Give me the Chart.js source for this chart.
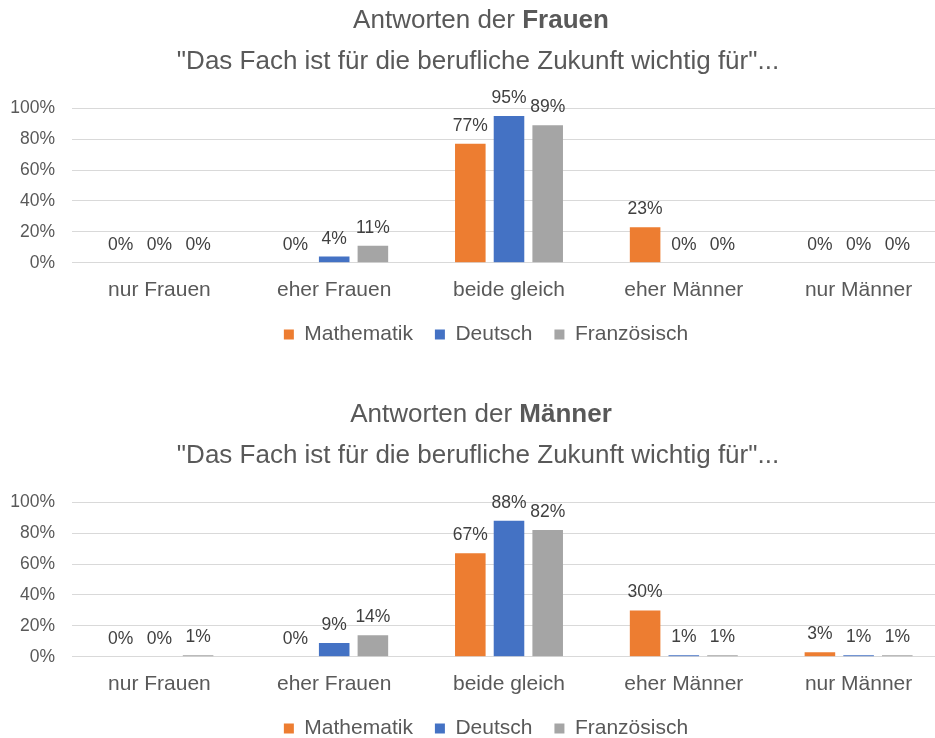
<!DOCTYPE html>
<html>
<head>
<meta charset="utf-8">
<script src="https://cdn.jsdelivr.net/npm/chart.js@4/dist/chart.umd.min.js"></script>
<style>
  html, body { margin: 0; padding: 0; background: #fff; overflow: hidden; }
  #wrap { position: relative; width: 935px; height: 738px; overflow: hidden; }
  .box { position: absolute; left: 0; width: 962px; height: 393px; }
  #b1 { top: 0; }
  #b2 { top: 394px; }
</style>
</head>
<body>
<div id="wrap">
  <div class="box" id="b1"><canvas id="c1"></canvas></div>
  <div class="box" id="b2"><canvas id="c2"></canvas></div>
</div>
<script>
const categories = ['nur Frauen', 'eher Frauen', 'beide gleich', 'eher Männer', 'nur Männer'];
const seriesNames = ['Mathematik', 'Deutsch', 'Französisch'];
const frauenMathematik = [0, 0, 77, 23, 0];
const frauenDeutsch = [0, 4, 95, 0, 0];
const frauenFranzoesisch = [0, 11, 89, 0, 0];
const maennerMathematik = [0, 0, 67, 30, 3];
const maennerDeutsch = [0, 9, 88, 1, 1];
const maennerFranzoesisch = [1, 14, 82, 1, 1];
const yTicks = [0, 20, 40, 60, 80, 100];
const titleNormal = 'Antworten der ';
const titleBoldFrauen = 'Frauen';
const titleBoldMaenner = 'Männer';
const subtitleText = '"Das Fach ist für die berufliche Zukunft wichtig für"...';

const FONT = '"Liberation Sans", Arial, sans-serif';
const colors = ['#ED7D31', '#4472C4', '#A5A5A5'];
const textGray = '#595959';

const titlePlugin = {
  id: 'mixedTitle',
  afterLayout(chart) {
    if (chart.legend) { chart.legend.left += 8; chart.legend.right += 8; }
  },
  afterDraw(chart, args, opts) {
    const ctx = chart.ctx;
    ctx.save();
    ctx.textBaseline = 'middle';
    ctx.fillStyle = textGray;
    const fNormal = '26px ' + FONT;
    const fBold = 'bold 26px ' + FONT;
    ctx.font = fNormal;
    const w1 = ctx.measureText(opts.normal).width;
    ctx.font = fBold;
    const w2 = ctx.measureText(opts.bold).width;
    const x0 = chart.width / 2 - (w1 + w2) / 2;
    ctx.textAlign = 'left';
    ctx.font = fNormal;
    ctx.fillText(opts.normal, x0, 21);
    ctx.font = fBold;
    ctx.fillText(opts.bold, x0 + w1, 21);
    ctx.restore();
  }
};

const valueLabels = {
  id: 'valueLabels',
  afterDatasetsDraw(chart) {
    const ctx = chart.ctx;
    ctx.save();
    ctx.font = '17.5px ' + FONT;
    ctx.fillStyle = '#404040';
    ctx.textAlign = 'center';
    ctx.textBaseline = 'alphabetic';
    chart.data.datasets.forEach((ds, i) => {
      const meta = chart.getDatasetMeta(i);
      meta.data.forEach((bar, j) => {
        ctx.fillText(ds.data[j] + '%', bar.x, bar.y - 13);
      });
    });
    ctx.restore();
  }
};

function makeChart(id, bold, d1, d2, d3) {
  const data = [d1, d2, d3];
  return new Chart(document.getElementById(id), {
    type: 'bar',
    data: {
      labels: categories,
      datasets: seriesNames.map((n, i) => ({
        label: n,
        data: data[i],
        backgroundColor: colors[i],
        borderWidth: 0,
        categoryPercentage: 0.664,
        barPercentage: 0.79
      }))
    },
    options: {
      responsive: true,
      maintainAspectRatio: false,
      animation: false,
      devicePixelRatio: 1,
      layout: { padding: { top: 40, left: 10, right: 16, bottom: 38 } },
      plugins: {
        mixedTitle: { normal: titleNormal, bold: bold },
        title: { display: false },
        subtitle: {
          display: true,
          text: subtitleText,
          color: textGray,
          font: { family: FONT, size: 26, weight: 'normal' },
          padding: { top: 6, bottom: 31 }
        },
        legend: {
          position: 'bottom',
          labels: {
            boxWidth: 10,
            boxHeight: 10,
            padding: 22,
            color: textGray,
            font: { family: FONT, size: 21 }
          }
        },
        tooltip: { enabled: false }
      },
      scales: {
        x: {
          grid: { display: false, drawTicks: false },
          border: { display: false },
          ticks: { color: textGray, font: { family: FONT, size: 21 }, padding: 15 },
          afterFit(scale) { scale.paddingLeft = 0; scale.paddingRight = 0; scale.height -= 16; }
        },
        y: {
          min: 0,
          max: 100,
          afterBuildTicks(scale) { scale.ticks = yTicks.map(v => ({ value: v })); },
          afterFit(scale) { scale.width = 62; },
          grid: { color: '#D9D9D9', lineWidth: 1, drawTicks: false },
          border: { display: false },
          ticks: {
            color: textGray,
            font: { family: FONT, size: 17.5 },
            padding: 17,
            callback: v => v + '%'
          }
        }
      }
    },
    plugins: [titlePlugin, valueLabels]
  });
}

makeChart('c1', titleBoldFrauen, frauenMathematik, frauenDeutsch, frauenFranzoesisch);
makeChart('c2', titleBoldMaenner, maennerMathematik, maennerDeutsch, maennerFranzoesisch);
</script>
</body>
</html>
